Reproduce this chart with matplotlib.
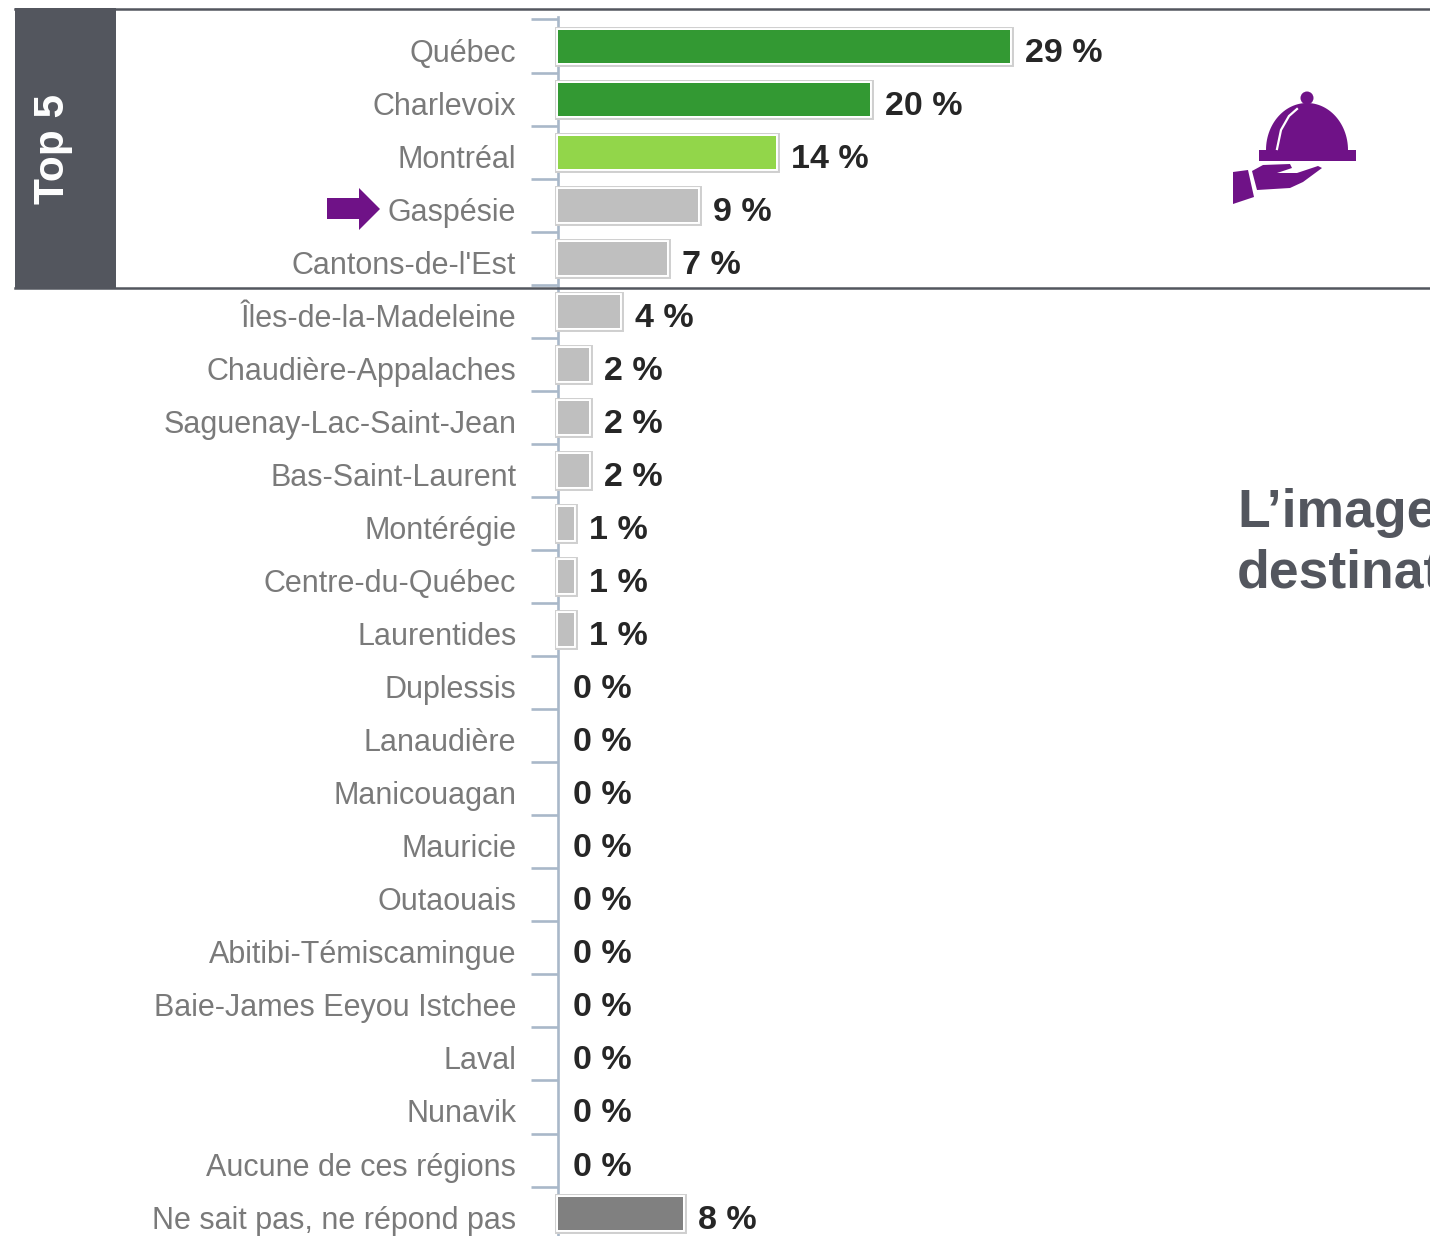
import numpy as np
import matplotlib
matplotlib.use('Agg')
import matplotlib.pyplot as plt
import matplotlib.patheffects as pe
from matplotlib.patches import Rectangle, Polygon, Circle
from matplotlib.transforms import ScaledTranslation

plt.rcParams['font.family'] = ['Liberation Sans', 'DejaVu Sans']

regions = ['Québec', 'Charlevoix', 'Montréal', 'Gaspésie', "Cantons-de-l'Est", 'Îles-de-la-Madeleine',
           'Chaudière-Appalaches', 'Saguenay-Lac-Saint-Jean', 'Bas-Saint-Laurent', 'Montérégie',
           'Centre-du-Québec', 'Laurentides', 'Duplessis', 'Lanaudière', 'Manicouagan', 'Mauricie',
           'Outaouais', 'Abitibi-Témiscamingue', 'Baie-James Eeyou Istchee', 'Laval', 'Nunavik',
           'Aucune de ces régions', 'Ne sait pas, ne répond pas']
values = [29, 20, 14, 9, 7, 4, 2, 2, 2, 1, 1, 1, 0, 0, 0, 0, 0, 0, 0, 0, 0, 0, 8]
colors = ['#339933', '#339933', '#92d64a'] + ['#bfbfbf'] * 19 + ['#808080']

W, H = 1430, 1236
dark = '#53565e'
purple = '#6f1287'

fig = plt.figure(figsize=(W / 100, H / 100), dpi=100)

# chart axes fills the figure, scales set so 0 % sits at x=558px
ax = fig.add_axes([0, 0, 1, 1])
px_per_pct = 15.6
px_per_row = 53.05
ax.set_xlim(-558 / px_per_pct, (W - 558) / px_per_pct)
ax.set_ylim((H - 46) / px_per_row, -46 / px_per_row)
ax.patch.set_alpha(0)

rows = list(range(len(regions)))
bars = ax.barh(rows, values, height=33 / px_per_row, color=colors, linewidth=0, zorder=3)
for bar, v in zip(bars, values):
    if v == 0:
        bar.set_visible(False)
    bar.set_path_effects([pe.Stroke(linewidth=5, foreground='#cfcfcf'),
                          pe.Stroke(linewidth=2.8, foreground='white'), pe.Normal()])

for r, v in zip(rows, values):
    ax.annotate(f'{v} %', (v, r), xytext=(15, -7), textcoords='offset pixels', ha='left', va='center',
                fontsize=24.5, fontweight='bold', color='#262626')

for s in ['top', 'right', 'bottom']:
    ax.spines[s].set_visible(False)
ax.spines['left'].set_position(('data', 0))
ax.spines['left'].set_color('#a9b8c9')
ax.spines['left'].set_linewidth(1.9)
ax.spines['left'].set_bounds(-0.55, ax.get_ylim()[0])
ax.xaxis.set_visible(False)
ax.set_yticks(rows, regions)
ax.set_yticks([r - 0.5 for r in rows], minor=True)
ax.tick_params(axis='y', which='major', length=0, pad=30, labelsize=22, labelcolor='#7a7a7a')
ax.tick_params(axis='y', which='minor', length=19.5, width=1.9, color='#a9b8c9')
shift = ScaledTranslation(0, -4 / 100, fig.dpi_scale_trans)
for lab in ax.get_yticklabels():
    lab.set_transform(lab.get_transform() + shift)

# overlay in pixel coordinates for the Top 5 frame, arrow, icon and side text
deco = fig.add_axes([0, 0, 1, 1], zorder=5)
deco.set_xlim(0, W)
deco.set_ylim(H, 0)
deco.axis('off')
deco.patch.set_alpha(0)

deco.add_patch(Rectangle((15, 8), 101, 281, color=dark, lw=0))
deco.plot([15, W], [8.5, 8.5], color=dark, lw=1.8)
deco.plot([15, W], [288, 288], color=dark, lw=1.8)
deco.text(53, 149, 'Top 5', rotation=90, color='white', fontsize=30.5, fontweight='bold', ha='center', va='center')

deco.add_patch(Polygon([(327, 198), (359, 198), (359, 188), (380, 209), (359, 230), (359, 219), (327, 219)],
                       color=purple, lw=0))

# cloche and hand
t = np.linspace(np.pi, 2 * np.pi, 60)
deco.add_patch(Circle((1307, 98), 6.5, color=purple, lw=0))
deco.add_patch(Polygon(np.c_[1307 + 41 * np.cos(t), 150 + 47 * np.sin(t)], color=purple, lw=0))
deco.add_patch(Rectangle((1259, 150), 97, 11, color=purple, lw=0))
deco.plot([1277, 1281, 1289, 1297], [149, 130, 116, 109], color='white', lw=1.6)
deco.add_patch(Polygon([(1233, 172), (1248, 170), (1254, 197), (1233, 204)], color=purple, lw=0))
deco.add_patch(Polygon([(1252, 171), (1263, 165), (1290, 164), (1292, 168), (1277, 173), (1297, 173),
                        (1318, 166), (1322, 168), (1303, 182), (1290, 188), (1257, 190)],
                       color=purple, lw=0))

deco.text(1237, 513, 'L’image', color=dark, fontsize=38.5, fontweight='bold', ha='left', va='center')
deco.text(1237, 574, 'destinat', color=dark, fontsize=38.5, fontweight='bold', ha='left', va='center')

fig.savefig('out.png', dpi=100)
